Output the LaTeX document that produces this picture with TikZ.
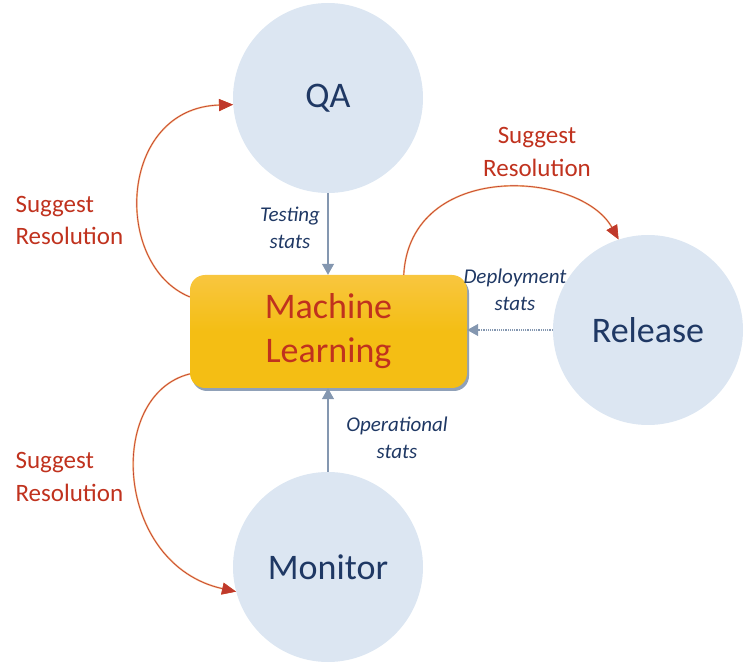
\documentclass[tikz,border=0pt]{standalone}
\usepackage{fontspec}
\setmainfont{Carlito}
\usetikzlibrary{arrows.meta,shadows}
\definecolor{circfill}{HTML}{DCE6F2}
\definecolor{navy}{HTML}{1F3864}
\definecolor{redtxt}{HTML}{C0321E}
\definecolor{mlfill}{HTML}{F4BE14}
\definecolor{mltop}{HTML}{F8C63F}
\definecolor{statline}{HTML}{8497B0}
\definecolor{arcred}{HTML}{C0392B}
\definecolor{arcglow}{HTML}{F3B27C}
\begin{document}
\begin{tikzpicture}[x=1pt,y=-1pt,
  stage/.style={circle, fill=circfill, minimum size=190pt, inner sep=0pt, text=navy, font=\fontsize{36}{40}\selectfont},
  mlbox/.style={rounded corners=15pt, minimum width=277pt, minimum height=113pt, inner sep=0pt,
    top color=mltop, bottom color=mlfill, middle color=mlfill, text=redtxt, align=center,
    font=\fontsize{36}{44}\selectfont,
    drop shadow={shadow xshift=2pt, shadow yshift=-3pt, fill=statline, opacity=0.9}},
  statlbl/.style={text=navy, align=center, font=\fontsize{21}{27}\selectfont\itshape},
  sugglbl/.style={text=redtxt, font=\fontsize{25}{32.5}\selectfont},
  statarrow/.style={draw=statline, line width=1.2pt, -{Triangle[width=12pt,length=11pt]}},
  resarrow/.style={draw=arcred, line width=0.6pt, -{Triangle[width=12pt,length=14pt]},
    preaction={draw=arcglow, line width=1.7pt}}
]
\useasboundingbox (0,0) rectangle (748,663);
\node[stage] (qa) at (328,98) {QA};
\node[stage] (release) at (648,330) {Release};
\node[stage] (monitor) at (328,567) {Monitor};
\node[mlbox] (ml) at (328.5,331.5) {Machine\\Learning};

\node[statlbl] (tst) at (290,228) {Testing\\stats};
\node[statlbl] (dst) at (515,289.5) {Deployment\\stats};
\node[statlbl] (ost) at (397,437.5) {Operational\\stats};

\node[sugglbl, anchor=west, align=left] (s1) at (12,220.5) {Suggest\\Resolution};
\node[sugglbl, anchor=west, align=left] (s2) at (12,477) {Suggest\\Resolution};
\node[sugglbl, align=center] (s3) at (537,152) {Suggest\\Resolution};

\draw[statarrow] (qa.south) -- (qa.south |- ml.north);
\draw[statarrow, densely dotted] (release.west) -- (release.west -| ml.east);
\draw[statarrow] (monitor.north) -- (monitor.north |- ml.south);

\draw[resarrow] (ml.166) .. controls (112,265) and (118,108) .. (qa.184);
\draw[resarrow] (ml.37) .. controls (410,160) and (580,170) .. (release.108);
\draw[resarrow] (ml.197) .. controls (105,395) and (115,565) .. (monitor.195);
\end{tikzpicture}
\end{document}
